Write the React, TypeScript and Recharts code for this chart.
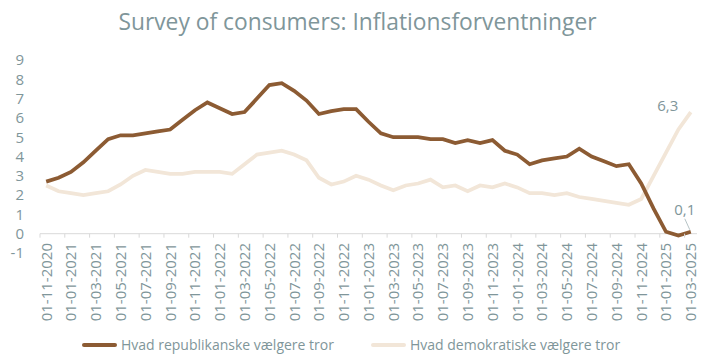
import React from 'react'
import {
  LineChart,
  Line,
  XAxis,
  YAxis,
  Legend,
  ReferenceLine,
  LabelList
} from 'recharts'

// Monthly survey dates, 01-11-2020 .. 01-03-2025
const months = [
  '01-11-2020', '01-12-2020',
  '01-01-2021', '01-02-2021', '01-03-2021', '01-04-2021', '01-05-2021', '01-06-2021',
  '01-07-2021', '01-08-2021', '01-09-2021', '01-10-2021', '01-11-2021', '01-12-2021',
  '01-01-2022', '01-02-2022', '01-03-2022', '01-04-2022', '01-05-2022', '01-06-2022',
  '01-07-2022', '01-08-2022', '01-09-2022', '01-10-2022', '01-11-2022', '01-12-2022',
  '01-01-2023', '01-02-2023', '01-03-2023', '01-04-2023', '01-05-2023', '01-06-2023',
  '01-07-2023', '01-08-2023', '01-09-2023', '01-10-2023', '01-11-2023', '01-12-2023',
  '01-01-2024', '01-02-2024', '01-03-2024', '01-04-2024', '01-05-2024', '01-06-2024',
  '01-07-2024', '01-08-2024', '01-09-2024', '01-10-2024', '01-11-2024', '01-12-2024',
  '01-01-2025', '01-02-2025', '01-03-2025'
]

const republicans = [
  2.7, 2.9,
  3.2, 3.7, 4.3, 4.9, 5.1, 5.1, 5.2, 5.3, 5.4, 5.9, 6.4, 6.8,
  6.5, 6.2, 6.3, 7.0, 7.7, 7.8, 7.4, 6.9, 6.2, 6.35, 6.45, 6.45,
  5.8, 5.2, 5.0, 5.0, 5.0, 4.9, 4.9, 4.7, 4.85, 4.7, 4.85, 4.3,
  4.1, 3.6, 3.8, 3.9, 4.0, 4.4, 4.0, 3.75, 3.5, 3.6, 2.6, 1.3,
  0.1, -0.1, 0.1
]

const democrats = [
  2.5, 2.2,
  2.1, 2.0, 2.1, 2.2, 2.55, 3.0, 3.3, 3.2, 3.1, 3.1, 3.2, 3.2,
  3.2, 3.1, 3.6, 4.1, 4.2, 4.3, 4.1, 3.8, 2.9, 2.55, 2.7, 3.0,
  2.8, 2.5, 2.25, 2.5, 2.6, 2.8, 2.4, 2.5, 2.2, 2.5, 2.4, 2.6,
  2.4, 2.1, 2.1, 2.0, 2.1, 1.9, 1.8, 1.7, 1.6, 1.5, 1.8, 3.0,
  4.2, 5.4, 6.3
]

const yTicks = [-1, 0, 1, 2, 3, 4, 5, 6, 7, 8, 9]

const seriesNames = {
  rep: 'Hvad republikanske vælgere tror',
  dem: 'Hvad demokratiske vælgere tror'
}

const BROWN = '#8C5B33'
const BEIGE = '#F2E6D8'
const TEXT = '#7F969A'
const AXIS = '#D9D9D9'
const FONT = '"Open Sans", sans-serif'

const W = 715
const H = 364
const TOP = 60
const XAXIS_H = 80
const LEGEND_H = 31
const PLOT_H = H - TOP - XAXIS_H - LEGEND_H
const ZERO_UP = (PLOT_H * (0 - yTicks[0])) / (yTicks[yTicks.length - 1] - yTicks[0])

const data = months.map((m, i) => ({
  month: m,
  rep: republicans[i],
  dem: democrats[i]
}))

const fmt = (v: number) => v.toFixed(1).replace('.', ',')

function DateTick(props: any) {
  const { x, y, payload } = props
  const half = payload.offset || 0
  const y0 = y - ZERO_UP
  return (
    <g>
      <line x1={x - half} x2={x - half} y1={y0} y2={y0 + 4} stroke={AXIS} />
      <text
        transform={`translate(${x},${y - 10}) rotate(-90)`}
        textAnchor="end"
        dy="0.36em"
        fill={TEXT}
        fontSize={15}
        fontFamily={FONT}
      >
        {payload.value}
      </text>
    </g>
  )
}

function LastLabel(props: any) {
  const { x, y, value, index, kind } = props
  if (index !== months.length - 1) return null
  if (kind === 'dem') {
    return (
      <text x={x - 23} y={y - 6} textAnchor="middle" dy="0.35em" fill={TEXT} fontSize={15} fontFamily={FONT}>
        {fmt(value)}
      </text>
    )
  }
  return (
    <g>
      <line x1={x - 6} y1={y - 13} x2={x - 1} y2={y - 2} stroke="#B7C4C6" />
      <text x={x - 6} y={y - 22} textAnchor="middle" dy="0.35em" fill={TEXT} fontSize={15} fontFamily={FONT}>
        {fmt(value)}
      </text>
    </g>
  )
}

function LegendContent() {
  const items = [
    { name: seriesNames.rep, color: BROWN },
    { name: seriesNames.dem, color: BEIGE }
  ]
  return (
    <div
      style={{
        display: 'flex',
        justifyContent: 'center',
        gap: 37,
        paddingTop: 3,
        paddingLeft: 5,
        fontFamily: FONT,
        fontSize: 14,
        color: TEXT,
        lineHeight: '18px'
      }}
    >
      {items.map((it) => (
        <div key={it.name} style={{ display: 'flex', alignItems: 'center', gap: 4 }}>
          <div style={{ width: 35, height: 4, background: it.color, borderRadius: 2 }} />
          <span>{it.name}</span>
        </div>
      ))}
    </div>
  )
}

export default function App() {
  return (
    <div style={{ position: 'absolute', left: 0, top: 0, width: W, height: H, background: '#fff' }}>
      <div
        style={{
          position: 'absolute',
          top: 8,
          left: 0,
          width: W,
          textAlign: 'center',
          fontFamily: FONT,
          fontSize: 22.8,
          color: TEXT,
          lineHeight: '28px'
        }}
      >
        Survey of consumers: Inflationsforventninger
      </div>
      <LineChart width={W} height={H} data={data} margin={{ top: TOP, right: 18, left: 0, bottom: 0 }}>
        <XAxis
          dataKey="month"
          scale="band"
          interval={1}
          height={XAXIS_H}
          axisLine={false}
          tickLine={false}
          tickSize={0}
          tickMargin={0}
          tick={<DateTick />}
        />
        <YAxis
          domain={[-1, 9]}
          ticks={yTicks}
          interval={0}
          width={40}
          axisLine={false}
          tickLine={false}
          tickMargin={10}
          tick={{ fill: TEXT, fontSize: 15, fontFamily: FONT }}
        />
        <ReferenceLine y={0} stroke={AXIS} strokeWidth={1} />
        <Legend verticalAlign="bottom" height={LEGEND_H} content={<LegendContent />} />
        <Line
          type="linear"
          dataKey="dem"
          name={seriesNames.dem}
          stroke={BEIGE}
          strokeWidth={3.75}
          dot={false}
          isAnimationActive={false}
        >
          <LabelList dataKey="dem" content={(p: any) => <LastLabel {...p} kind="dem" />} />
        </Line>
        <Line
          type="linear"
          dataKey="rep"
          name={seriesNames.rep}
          stroke={BROWN}
          strokeWidth={3.75}
          dot={false}
          isAnimationActive={false}
        >
          <LabelList dataKey="rep" content={(p: any) => <LastLabel {...p} kind="rep" />} />
        </Line>
      </LineChart>
    </div>
  )
}
